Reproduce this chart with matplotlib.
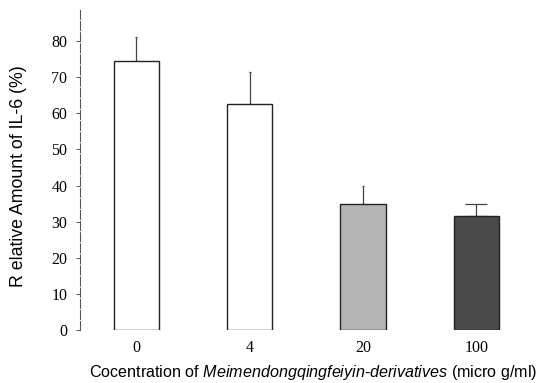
import matplotlib.pyplot as plt
import numpy as np

concentrations = ['0', '4', '20', '100']
il6_mean = [74.5, 62.5, 35.0, 31.5]
il6_err = [6.5, 9.0, 5.0, 3.5]
cap_sizes = [1, 1, 1, 8]
bar_colors = ['white', 'white', '#b4b4b4', '#4a4a4a']
y_ticks = [0, 10, 20, 30, 40, 50, 60, 70, 80]

plt.rcParams['mathtext.fontset'] = 'custom'
plt.rcParams['mathtext.it'] = 'Liberation Sans:italic'
plt.rcParams['mathtext.rm'] = 'Liberation Sans'

fig = plt.figure(figsize=(5.43, 3.83), dpi=100)
ax = fig.add_axes([0.147, 0.138, 0.814, 0.836])

x = np.arange(len(concentrations))
ax.bar(x, il6_mean, width=0.4, color=bar_colors, edgecolor='#222222',
       linewidth=1.0, zorder=2)
for xi, m, e, c in zip(x, il6_mean, il6_err, cap_sizes):
    ax.errorbar(xi, m, yerr=[[0], [e]], fmt='none', ecolor='#444444',
                elinewidth=0.9, capsize=c, capthick=0.9, zorder=1)

ax.set_xlim(-0.5, 3.4)
ax.set_ylim(0, 88.6)
ax.set_yticks(y_ticks)
ax.set_yticklabels([str(t) for t in y_ticks], family='Liberation Serif',
                   fontsize=11.5)
ax.set_xticks(x)
ax.set_xticklabels(concentrations, family='Liberation Serif', fontsize=11.5)
ax.tick_params(axis='x', length=0, pad=7)
ax.tick_params(axis='y', length=3, width=0.7, color='#555555', pad=6)

for s in ['top', 'right', 'bottom']:
    ax.spines[s].set_visible(False)
ax.spines['left'].set_color('#555555')
ax.spines['left'].set_linewidth(0.8)
ax.spines['left'].set_linestyle((0, (8, 2)))

ax.set_ylabel('R elative Amount of IL-6 (%)', family='Liberation Sans',
              fontsize=12.8)
ax.yaxis.set_label_coords(-0.12, 0.48)
ax.set_xlabel(r'Cocentration of $Meimendongqingfeiyin$-$derivatives$ (micro g/ml)',
              family='Liberation Sans', fontsize=11.6)
ax.xaxis.set_label_coords(0.527, -0.103)

fig.savefig('out.png', dpi=100)
